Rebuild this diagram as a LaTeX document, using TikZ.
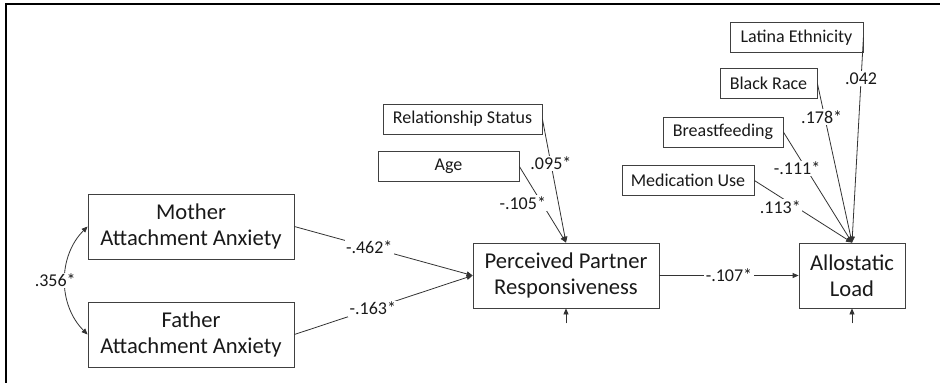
\documentclass[tikz,border=0pt]{standalone}
\usepackage{fontspec}
\setmainfont{Carlito}
\usetikzlibrary{arrows.meta,positioning}

\begin{document}
\begin{tikzpicture}[x=1pt,y=-1pt,line width=0.8pt,
  var/.style={draw=black!75,text=black!90,align=center,minimum height=65pt,inner sep=2pt,font=\fontsize{22.6}{26.5}\selectfont},
  cov/.style={draw=black!75,text=black!90,minimum height=30pt,inner sep=2pt,font=\fontsize{18}{21}\selectfont},
  coef/.style={fill=white,text=black!90,inner sep=1.5pt,font=\fontsize{18}{21}\selectfont},
  arr/.style={draw=black!80,-{Triangle[length=6pt,width=5pt]}}]
\useasboundingbox (0,0) rectangle (940,383);
% frame, only top and left edges show
\draw[line width=2pt] (940,3.7) -- (5.7,3.7) -- (5.7,383);

\node[var,minimum width=206pt] (mother) at (191,226.5) {Mother\\Attachment Anxiety};
\node[var,minimum width=206pt] (father) at (191,334.5) {Father\\Attachment Anxiety};
\node[var,minimum width=186pt] (ppr) at (566,275.5) {Perceived Partner\\Responsiveness};
\node[var,minimum width=106pt] (load) at (852,275.5) {Allostatic\\Load};

\node[cov,minimum width=159pt] (status) at (462.5,119) {Relationship Status};
\node[cov,minimum width=141pt] (age) at (448.5,166.5) {Age};
\node[cov,minimum width=133pt] (latina) at (796.5,37.5) {Latina Ethnicity};
\node[cov,minimum width=97pt] (black) at (768.5,83.5) {Black Race};
\node[cov,minimum width=120pt] (breast) at (723,132) {Breastfeeding};
\node[cov,minimum width=132pt] (meds) at (688,180.5) {Medication Use};

\coordinate[below=15pt of ppr] (eppr);
\coordinate[below=15pt of load] (eload);

\draw[{Triangle[length=6pt,width=5pt]}-{Triangle[length=6pt,width=5pt]},draw=black!80]
  (mother.west) to[bend right=45] node[coef,xshift=-10pt]{.356*} (father.west);

\draw[arr] (mother.east) -- node[coef,pos=0.42]{-.462*} (ppr.west);
\draw[arr] (father.east) -- node[coef,pos=0.44]{-.163*} (ppr.west);
\draw[arr] (ppr) -- node[coef]{-.107*} (load);

\draw[arr] (status.east) -- node[coef,pos=0.36]{.095*} (ppr.north);
\draw[arr] (age.east) -- node[coef,pos=0.48,xshift=-19pt]{-.105*} (ppr.north);

\draw[arr] (latina.east) -- node[coef,pos=0.2]{.042} (load.north);
\draw[arr] (black.east) -- node[coef,pos=0.21,xshift=-3pt]{.178*} (load.north);
\draw[arr] (breast.east) -- node[coef,pos=0.33,xshift=-9pt]{-.111*} (load.north);
\draw[arr] (meds.east) -- node[coef,pos=0.43,xshift=-16pt]{.113*} (load.north);

\draw[arr] (eppr) -- (ppr.south);
\draw[arr] (eload) -- (load.south);
\end{tikzpicture}
\end{document}
